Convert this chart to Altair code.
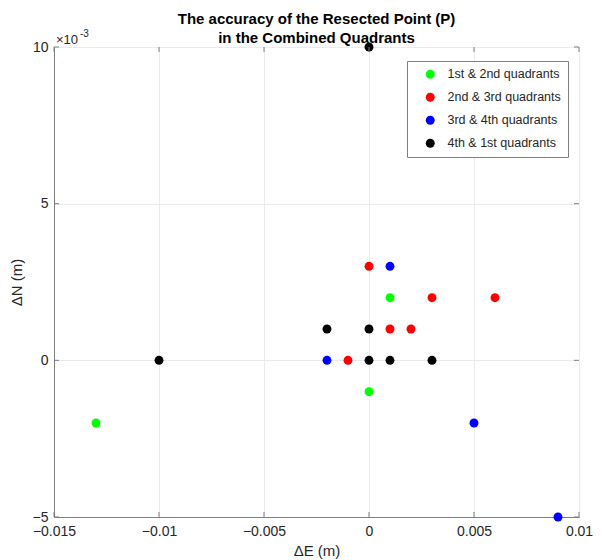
import altair as alt
import pandas as pd

series_names = ["1st & 2nd quadrants", "2nd & 3rd quadrants", "3rd & 4th quadrants", "4th & 1st quadrants"]
series_colors = ["#00FF00", "#FF0000", "#0000FF", "#000000"]

g_e = [-0.013, 0.001, 0.0]
g_n = [-0.002, 0.002, -0.001]
r_e = [0.0, 0.003, 0.006, 0.001, 0.002, -0.001]
r_n = [0.003, 0.002, 0.002, 0.001, 0.001, 0.0]
b_e = [0.001, -0.002, 0.005, 0.009]
b_n = [0.003, 0.0, -0.002, -0.005]
k_e = [0.0, -0.010, -0.002, 0.0, 0.0, 0.001, 0.003]
k_n = [0.010, 0.0, 0.001, 0.001, 0.0, 0.0, 0.0]

x_ticks = [-0.015, -0.01, -0.005, 0, 0.005, 0.01]
y_ticks = [-0.005, 0, 0.005, 0.01]

rows = []
for name, es, ns in zip(series_names, [g_e, r_e, b_e, k_e], [g_n, r_n, b_n, k_n]):
    for e, n in zip(es, ns):
        rows.append({"E": e, "N": n, "series": name})
df = pd.DataFrame(rows)

FONT = "Liberation Sans"
W, H = 525, 470
TXT = "#262626"
AX = "#7f7f7f"

xscale = alt.Scale(domain=[-0.015, 0.01], nice=False, zero=False)
yscale = alt.Scale(domain=[-0.005, 0.01], nice=False, zero=False)

points = alt.Chart(df).mark_circle(size=80, opacity=1).encode(
    x=alt.X("E:Q", title="ΔE (m)", scale=xscale,
            axis=alt.Axis(values=x_ticks, labelExpr="datum.value == 0 ? '0' : format(datum.value, '')",
                          grid=True, gridColor="#ebebeb", ticks=False, domainColor=AX,
                          labelFontSize=14, titleFontSize=15, labelPadding=7,
                          titleBaseline="alphabetic", titleY=38,
                          labelColor=TXT, titleColor=TXT, titleFontWeight="normal",
                          labelFont=FONT, titleFont=FONT, labelFlush=False)),
    y=alt.Y("N:Q", title="ΔN (m)", scale=yscale,
            axis=alt.Axis(values=y_ticks, labelExpr="format(datum.value * 1000, 'd')",
                          grid=True, gridColor="#ebebeb", ticks=False, domainColor=AX,
                          labelFontSize=14, titleFontSize=15, labelPadding=6, titlePadding=8,
                          labelColor=TXT, titleColor=TXT, titleFontWeight="normal",
                          labelFont=FONT, titleFont=FONT, labelFlush=False)),
    color=alt.Color("series:N",
                    scale=alt.Scale(domain=series_names, range=series_colors),
                    legend=alt.Legend(title=None, orient="none", legendX=353, legendY=14,
                                      symbolType="circle", symbolSize=80, symbolStrokeWidth=0,
                                      labelFontSize=12.5, labelFont=FONT, labelColor=TXT,
                                      rowPadding=10, padding=7, strokeColor=AX,
                                      fillColor="white", symbolOffset=10, labelOffset=11)),
)

xt = pd.DataFrame({"v": x_ticks})
yt = pd.DataFrame({"v": y_ticks})
xtick_bot = alt.Chart(xt).mark_rule(color=AX).encode(x=alt.X("v:Q", scale=xscale), y=alt.value(H), y2=alt.value(H - 5))
xtick_top = alt.Chart(xt).mark_rule(color=AX).encode(x=alt.X("v:Q", scale=xscale), y=alt.value(0), y2=alt.value(5))
ytick_l = alt.Chart(yt).mark_rule(color=AX).encode(y=alt.Y("v:Q", scale=yscale), x=alt.value(0), x2=alt.value(5))
ytick_r = alt.Chart(yt).mark_rule(color=AX).encode(y=alt.Y("v:Q", scale=yscale), x=alt.value(W), x2=alt.value(W - 5))

expo_base = alt.Chart(pd.DataFrame({"t": ["×10"]})).mark_text(
    align="left", baseline="alphabetic", fontSize=13, font=FONT, color=TXT
).encode(x=alt.value(2), y=alt.value(-3), text="t:N")
expo_sup = alt.Chart(pd.DataFrame({"t": ["-3"]})).mark_text(
    align="left", baseline="alphabetic", fontSize=10, font=FONT, color=TXT
).encode(x=alt.value(26), y=alt.value(-10), text="t:N")

chart = alt.layer(points, xtick_bot, xtick_top, ytick_l, ytick_r, expo_base, expo_sup).properties(
    width=W, height=H,
    title=alt.Title(["The accuracy of the Resected Point (P)", "in the Combined Quadrants"],
                    fontSize=15, font=FONT, fontWeight="bold", color="black",
                    anchor="middle", offset=6, dy=23, lineHeight=19),
    autosize=alt.AutoSizeParams(type="none"),
    padding={"left": 46, "top": 39, "right": 14, "bottom": 43},
).configure_view(stroke=AX, strokeWidth=1).configure(background="white")

chart.save("out.html", embed_options={"renderer": "svg", "actions": False})
